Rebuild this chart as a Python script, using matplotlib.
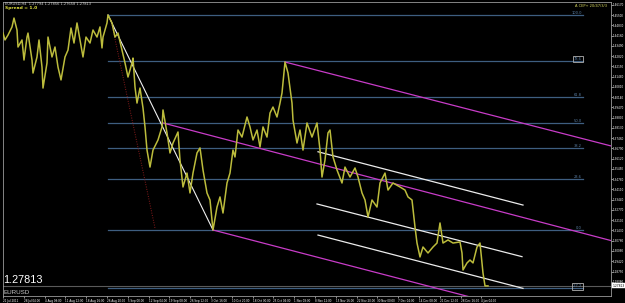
import matplotlib
matplotlib.use("Agg")
import matplotlib.pyplot as plt
import numpy as np

# ---------------- data ----------------
bars = [0, 2, 5, 9, 11, 14, 15, 19, 21, 24, 25, 29, 30, 34, 36, 39, 40, 44, 45, 49,
        52, 55, 58, 62, 65, 68, 71, 74, 77, 80, 83, 87, 90, 94, 97, 99, 100, 104, 105, 109,
        112, 115, 119, 122, 125, 129, 130, 132, 134, 137, 140, 142, 144, 147, 150, 155, 159, 160, 164, 167,
        170, 175, 177, 180, 184, 187, 190, 194, 197, 200, 204, 207, 210, 214, 217, 220, 224, 227, 230, 232,
        235, 239, 244, 247, 250, 254, 257, 260, 264, 267, 270, 274, 277, 279, 282, 285, 289, 290, 294, 297,
        300, 304, 309, 314, 317, 319, 322, 325, 327, 330, 334, 339, 342, 347, 352, 355, 359, 362, 365, 369,
        374, 377, 382, 385, 390, 397, 402, 405, 409, 412, 414, 417, 420, 425, 430, 434, 437, 440, 445, 450,
        457, 459, 460, 464, 467, 470, 474, 477, 479, 480, 482, 485]
closes = [1.4432, 1.4387, 1.4419, 1.4472, 1.4530, 1.4452, 1.4341, 1.4387, 1.4256, 1.4406,
          1.4432, 1.4256, 1.4171, 1.4276, 1.4387, 1.4210, 1.4073, 1.4237, 1.4406, 1.4276,
          1.4341, 1.4210, 1.4126, 1.4276, 1.4321, 1.4465, 1.4367, 1.4498, 1.4387, 1.4276,
          1.4406, 1.4367, 1.4452, 1.4406, 1.4472, 1.4335, 1.4406, 1.4498, 1.4550, 1.4498,
          1.4406, 1.4432, 1.4321, 1.4237, 1.4145, 1.4237, 1.4269, 1.4080, 1.3975, 1.4073,
          1.3943, 1.3819, 1.3668, 1.3557, 1.3668, 1.3734, 1.3819, 1.3930, 1.3780, 1.3649,
          1.3714, 1.3786, 1.3603, 1.3427, 1.3518, 1.3388, 1.3518, 1.3649, 1.3682, 1.3538,
          1.3388, 1.3342, 1.3146, 1.3296, 1.3362, 1.3257, 1.3453, 1.3518, 1.3668, 1.3623,
          1.3799, 1.3753, 1.3884, 1.3819, 1.3734, 1.3799, 1.3688, 1.3819, 1.3753, 1.3910,
          1.3949, 1.3884, 1.3975, 1.4041, 1.4243, 1.4171, 1.3975, 1.3864, 1.3714, 1.3799,
          1.3668, 1.3845, 1.3753, 1.3845, 1.3668, 1.3492, 1.3603, 1.3780, 1.3799, 1.3623,
          1.3538, 1.3453, 1.3557, 1.3492, 1.3551, 1.3492, 1.3388, 1.3342, 1.3231, 1.3342,
          1.3296, 1.3453, 1.3518, 1.3407, 1.3453, 1.3427, 1.3407, 1.3362, 1.3342, 1.3166,
          1.3061, 1.2970, 1.3035, 1.2996, 1.3035, 1.3061, 1.3192, 1.3061, 1.3081, 1.3061,
          1.3068, 1.2996, 1.2885, 1.2931, 1.2950, 1.2931, 1.3035, 1.3061, 1.2931, 1.2865,
          1.2781, 1.2781]
assert len(bars) == len(closes)

last_price = 1.27813
symbol = "EURUSD"

fib_high = (105, 1.4550)
fib_low = (210, 1.3146)
fib_end_bar = 580
fib_levels = [100.0, 78.6, 61.8, 50.0, 38.2, 23.6, 0.0, -27.2]
fib_boxed = [78.6, -27.2]
red_trend = [(108, 1.4517), (152, 1.3159)]

magenta_lines = [
    [(282, 1.4243), (608, 1.3695)],
    [(160, 1.3845), (608, 1.3077)],
    [(210, 1.3146), (608, 1.2469)],
]
white_lines = [
    [(315, 1.3657), (520, 1.3309)],
    [(314, 1.3316), (519, 1.2972)],
    [(315, 1.3113), (520, 1.2765)],
]

price_ticks = [1.46170, 1.45500, 1.44830, 1.44160, 1.43490, 1.42820, 1.42150, 1.41480,
               1.40810, 1.40140, 1.39470, 1.38800, 1.38130, 1.37460, 1.36790, 1.36120,
               1.35450, 1.34780, 1.34110, 1.33440, 1.32770, 1.32100, 1.31430, 1.30760,
               1.30090, 1.29420, 1.28750, 1.28080]

date_tick_bars = [0, 21, 42, 62, 83, 104, 125, 146, 166, 187, 208, 229, 250, 270,
                  291, 312, 333, 354, 374, 395, 416, 437, 458, 478]
date_labels = ["21 Jul 2011", "28 Jul 04:00", "4 Aug 08:00", "11 Aug 12:00", "18 Aug 16:00",
               "26 Aug 20:00", "5 Sep 00:00", "12 Sep 04:00", "19 Sep 08:00", "26 Sep 12:00",
               "3 Oct 16:00", "10 Oct 20:00", "18 Oct 00:00", "25 Oct 04:00", "1 Nov 08:00",
               "8 Nov 12:00", "15 Nov 16:00", "22 Nov 20:00", "30 Nov 00:00", "7 Dec 04:00",
               "14 Dec 08:00", "21 Dec 12:00", "28 Dec 16:00", "4 Jan 04:00"]

header_text = "EURUSD,H4  1.27794 1.27856 1.27658 1.27813"
spread_text = "Spread = 1.0"
corner_text = "A CEP+ 20/47/3/3"

# ---------------- figure ----------------
W, H = 625, 303
fig = plt.figure(figsize=(W / 100, H / 100), dpi=100, facecolor="black")
x0, x1, ytop, ybot = 3, 611, 2, 296
ax = fig.add_axes([x0 / W, (H - ybot) / H, (x1 - x0) / W, (ybot - ytop) / H])
ax.set_facecolor("black")
ax.set_xlim(0, 608)
ax.set_ylim(1.27151, 1.46349)

# bid line
ax.axhline(last_price, color="#5a5a5a", lw=0.8, zorder=1)

# fib levels
fib_col = "#3e5e80"
rng = fib_high[1] - fib_low[1]
for lv in fib_levels:
    p = fib_low[1] + rng * lv / 100.0
    ax.plot([fib_high[0], fib_end_bar], [p, p], color=fib_col, lw=0.9, zorder=2)
    box = dict(boxstyle="square,pad=0.3", fc="none", ec="#b0b0b0", lw=0.6) if lv in fib_boxed else None
    ax.text(fib_end_bar - 1, p, f"{lv:.1f}", color="#5a7fa5", fontsize=2.6,
            ha="right", va="bottom", bbox=box, zorder=3)

# fib diagonal & red dotted trend
ax.plot([fib_high[0], fib_low[0]], [fib_high[1], fib_low[1]], color="#f0f0f0", lw=0.8, zorder=4)
ax.plot([p[0] for p in red_trend], [p[1] for p in red_trend], color="#8b1c1c", lw=0.7,
        ls=(0, (1, 1.5)), zorder=3)

# price series
ax.plot(bars, closes, color="#bcbc3c", lw=1.1, zorder=5)

# channels
for ln in magenta_lines:
    ax.plot([p[0] for p in ln], [p[1] for p in ln], color="#c83cc8", lw=0.9, zorder=4)
for ln in white_lines:
    ax.plot([p[0] for p in ln], [p[1] for p in ln], color="#ececec", lw=0.9, zorder=4)

# axes styling
for s in ax.spines.values():
    s.set_color("#9a9a9a")
    s.set_linewidth(0.6)
ax.yaxis.tick_right()
ax.set_yticks(price_ticks)
ax.set_yticklabels([f"{v:.5f}" for v in price_ticks])
ax.tick_params(axis="y", colors="white", labelsize=2.0, length=1.2, width=0.4, pad=0.4)
ax.set_xticks(date_tick_bars)
ax.set_xticklabels(date_labels)
ax.tick_params(axis="x", colors="white", labelsize=2.0, length=1.5, width=0.4, pad=0.4)
for lbl in ax.get_xticklabels():
    lbl.set_ha("left")

# highlighted current price on the axis
ax.text(1.002, last_price, f"{last_price:.5f}", transform=ax.get_yaxis_transform(),
        fontsize=2.2, color="black", ha="left", va="center",
        bbox=dict(boxstyle="square,pad=0.2", fc="white", ec="white", lw=0.3))

# texts
def ft(x, y, s, **kw):
    fig.text(x / W, 1 - y / H, s, **kw)

ft(5, 4, header_text, color="#d0d0d0", fontsize=2.6, va="center", ha="left")
ft(5, 8.5, spread_text, color="#e0e040", fontsize=3.2, va="center", ha="left", fontweight="bold")
ft(607, 6, corner_text, color="#d8d860", fontsize=2.6, va="center", ha="right")
ft(3, 280, f"{last_price:.5f}", color="white", fontsize=7.8, va="center", ha="left",
   family="Liberation Sans")
ft(4, 292, symbol, color="#c8c8c8", fontsize=4.5, va="center", ha="left", family="Liberation Sans")

fig.savefig("out.png", dpi=100, facecolor="black")
